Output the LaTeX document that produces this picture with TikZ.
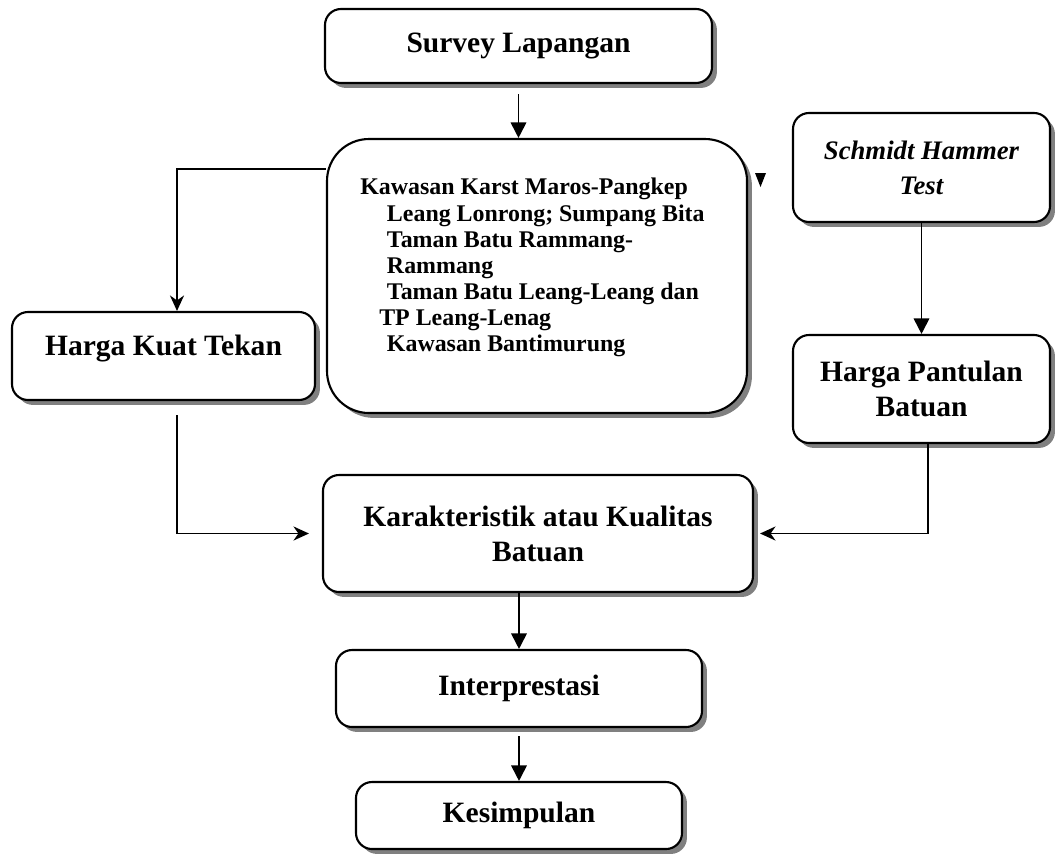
\documentclass[tikz,border=0pt]{standalone}
\usepackage{fontspec}
\setmainfont{Liberation Serif}
\usetikzlibrary{arrows.meta,shadows}

\begin{document}
\begin{tikzpicture}[
  kotak/.style={draw, line width=1.5pt, fill=white, rounded corners=0.4cm, align=center,
    font=\fontsize{21}{25}\selectfont\bfseries,
    drop shadow={shadow xshift=3.5pt, shadow yshift=-3.5pt, fill=black!50, opacity=1}},
  panah/.style={line width=1.3pt, -{Triangle[length=11pt,width=11pt]}},
  panahs/.style={line width=1.3pt, -{Stealth[length=11pt,width=10pt,inset=3.5pt]}}]
  \useasboundingbox (0,0) rectangle (26.475,-21.35);

  \draw (12.9625,-1.15)   node (survey) [kotak, minimum width=9.675cm, minimum height=1.85cm] {Survey Lapangan};
  \draw (13.425,-6.9)     node (kaw)    [kotak, rounded corners=1.05cm, minimum width=10.5cm, minimum height=6.85cm] {};
  \draw (9,-4.45)         node (kawtext) [anchor=north west, inner sep=0pt, align=left,
                                          font=\fontsize{17}{18.6}\selectfont\bfseries]
    {Kawasan Karst Maros-Pangkep\\
     \hspace*{19pt}Leang Lonrong; Sumpang Bita\\
     \hspace*{19pt}Taman Batu Rammang-\\
     \hspace*{19pt}Rammang\\
     \hspace*{19pt}Taman Batu Leang-Leang dan\\
     \hspace*{13.5pt}TP Leang-Lenag\\
     \hspace*{19pt}Kawasan Bantimurung};
  \draw (23.0375,-4.1875) node (sch)    [kotak, minimum width=6.425cm, minimum height=2.725cm,
                                          font=\fontsize{19}{25}\selectfont\bfseries\itshape] {Schmidt Hammer\\Test};
  \draw (4.0875,-8.9)     node (hkt)    [kotak, minimum width=7.575cm, minimum height=2.2cm, text depth=0.55cm] {Harga Kuat Tekan};
  \draw (23.0375,-9.725)  node (hpb)    [kotak, minimum width=6.425cm, minimum height=2.7cm] {Harga Pantulan\\Batuan};
  \draw (13.45,-13.3375)  node (kkb)    [kotak, minimum width=10.75cm, minimum height=2.925cm] {Karakteristik atau Kualitas\\Batuan};
  \draw (12.975,-17.2125) node (interp) [kotak, minimum width=9.15cm, minimum height=1.925cm] {Interprestasi};
  \draw (12.975,-20.3875) node (kes)    [kotak, minimum width=8.15cm, minimum height=1.675cm] {Kesimpulan};

  \coordinate (a) at (4.425,-4.225);
  \coordinate (c) at (23.2,-11);

  \draw[panah, shorten <=0.25cm] (survey.south) -- (survey.south |- kaw.north);
  \draw[panahs] (kaw.west |- a) -- (a) -- (a |- hkt.north);
  \draw[panahs, shorten <=0.35cm, shorten >=0.325cm] (hkt.south -| a) |- (kkb.west);
  \draw[panah] (sch) -- (hpb);
  \draw[panahs, shorten >=0.15cm] (hpb.south -| c) |- (kkb.east);
  \draw[panah] (interp.north |- kkb.south) -- (interp.north);
  \draw[panah, shorten <=0.2cm] (interp) -- (kes);

  \fill (18.875,-4.325) -- (19.15,-4.325) -- (19.0125,-4.675) -- cycle;
\end{tikzpicture}
\end{document}
